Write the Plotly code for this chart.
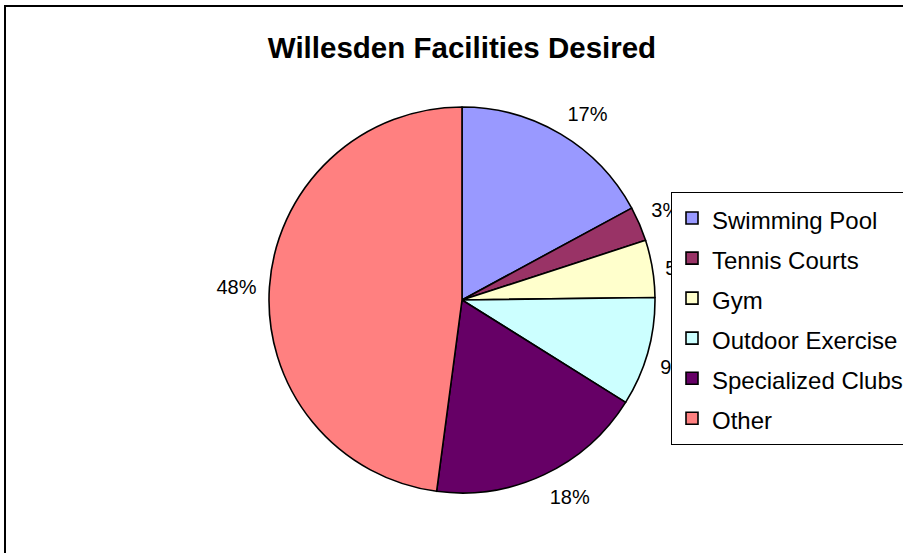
import math
import plotly.graph_objects as go

# ---- data ----
categories = ["Swimming Pool", "Tennis Courts", "Gym", "Outdoor Exercise", "Specialized Clubs", "Other"]
values = [17.1, 2.9, 4.8, 9.1, 18.2, 47.9]
colors = ["#9999FF", "#993366", "#FFFFCC", "#CCFFFF", "#660066", "#FF8080"]
title_text = "Willesden Facilities Desired"

# ---- layout constants (pixels) ----
W, H = 903, 553
CX, CY, R = 462, 300, 193
LABEL_R = 206
LABEL_DY = 3
FONT = "Liberation Sans, Arial, sans-serif"

fig = go.Figure()

# legend entries: legend font sets the row pitch, the span sets the visible size
legend_labels = [f"<span style='font-size:24px'>{c}</span>" for c in categories]

fig.add_trace(go.Pie(
    labels=legend_labels,
    values=values,
    sort=False,
    direction="clockwise",
    rotation=0,
    marker=dict(colors=colors, line=dict(color="black", width=1.6)),
    textinfo="none",
    hoverinfo="percent",
    domain=dict(x=[(CX - R) / W, (CX + R) / W], y=[(H - CY - R) / H, (H - CY + R) / H]),
    showlegend=True,
))

# percentage labels placed around the pie (computed from the data)
total = sum(values)
lx, ly, lt, lp = [], [], [], []
cum = 0.0
for v in values:
    mid = (cum + v / 2) / total * 2 * math.pi
    cum += v
    s, c = math.sin(mid), math.cos(mid)
    lx.append(CX + LABEL_R * s)
    ly.append(CY - LABEL_R * c + LABEL_DY)
    lt.append(f"{round(v / total * 100)}%")
    vert = "top" if c > 0.25 else ("bottom" if c < -0.25 else "middle")
    hor = "right" if s > 0 else "left"
    lp.append(f"{vert} {hor}")

fig.add_trace(go.Scatter(
    x=lx, y=ly, text=lt, mode="text",
    textposition=lp,
    textfont=dict(family=FONT, size=20, color="black"),
    showlegend=False, hoverinfo="skip",
))

fig.update_xaxes(range=[0, W], visible=False, fixedrange=True)
fig.update_yaxes(range=[H, 0], visible=False, fixedrange=True)

fig.update_layout(
    width=W, height=H,
    margin=dict(l=0, r=0, t=0, b=0, autoexpand=False),
    paper_bgcolor="white",
    plot_bgcolor="white",
    font=dict(family=FONT, color="black"),
    title=dict(
        text=f"<b>{title_text}</b>",
        x=CX / W, xanchor="center",
        y=1 - 48 / H, yanchor="middle",
        font=dict(size=29.5, family=FONT, color="black"),
    ),
    legend=dict(
        x=671 / W, xanchor="left",
        y=1 - 192 / H, yanchor="top",
        bgcolor="white",
        bordercolor="black", borderwidth=1,
        font=dict(size=28.5, family=FONT, color="black"),
    ),
    shapes=[dict(
        type="rect", xref="paper", yref="paper",
        x0=5 / W, x1=1.05, y0=-0.05, y1=1 - 6 / H,
        line=dict(color="black", width=2), fillcolor="rgba(0,0,0,0)",
        layer="above",
    )],
)

fig.write_html("out.html", config={"displayModeBar": False},
               post_script="document.body.style.margin='0px';")
